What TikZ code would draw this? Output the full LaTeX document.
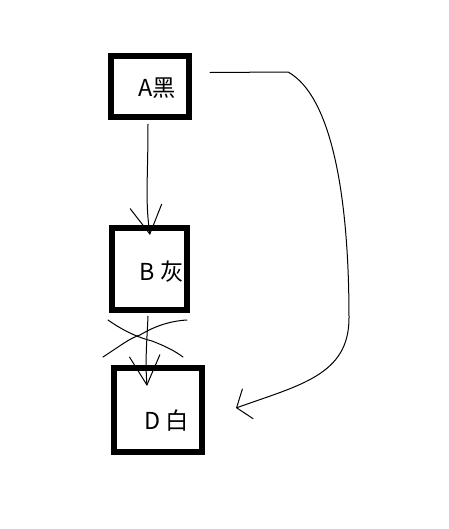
\documentclass[tikz,border=0pt]{standalone}
\usepackage{fontspec}
\newfontfamily\cjk{Noto Sans CJK SC}
\usetikzlibrary{arrows.meta, calc}

\begin{document}
\begin{tikzpicture}[
    x=0.75pt, y=-0.75pt,
    box/.style={draw=black, line width=4.5pt, inner sep=0pt},
    txt/.style={font=\cjk\fontsize{17.5}{20}\selectfont, inner sep=0pt},
    hand/.style={line width=0.75pt, line cap=round, line join=round},
    barb/.style 2 args={-{Straight Barb[length=#1, width=#2]}}
]

\useasboundingbox (0,0) rectangle (449,529);

\node[box, minimum width=58.5pt, minimum height=45.8pt, label={[txt, xshift=5.6pt, yshift=-1.1pt]center:A黑}] (A) at (150,86.5) {};
\node[box, minimum width=56.3pt, minimum height=61.5pt, label={[txt, xshift=9pt, yshift=-2.3pt]center:B\ 灰}] (B) at (149.5,269) {};
\node[box, minimum width=66pt, minimum height=63pt, label={[txt, xshift=6.4pt, yshift=-8.3pt]center:D\ 白}] (D) at (158,410) {};

% arrows
\draw[hand, barb={21pt}{24pt}] ($(A.south)+(-2,4)$) .. controls (148,180) and (145,200) .. ($(B.north)+(0.5,10)$);
\draw[hand, barb={22pt}{23pt}] ($(B.south)+(-1.5,3)$) .. controls (147,340) and (145,360) .. ($(D.north)+(-11,21)$);
\draw[hand, barb={9pt}{24pt}] ($(A.east)+(18,-14)$) -- (288,72)
    .. controls (330,95) and (349,190) .. (349,318)
    .. controls (349,375) and (300,385) .. ($(D.east)+(31,-2)$);

% crossed out
\draw[hand] (108,320) .. controls (125,332) and (140,338) .. (152,341) .. controls (165,346) and (175,351) .. (183,357);
\draw[hand] (103,357) .. controls (120,346) and (130,338) .. (140,335) .. controls (155,326) and (170,321) .. (187,320);

\end{tikzpicture}
\end{document}
